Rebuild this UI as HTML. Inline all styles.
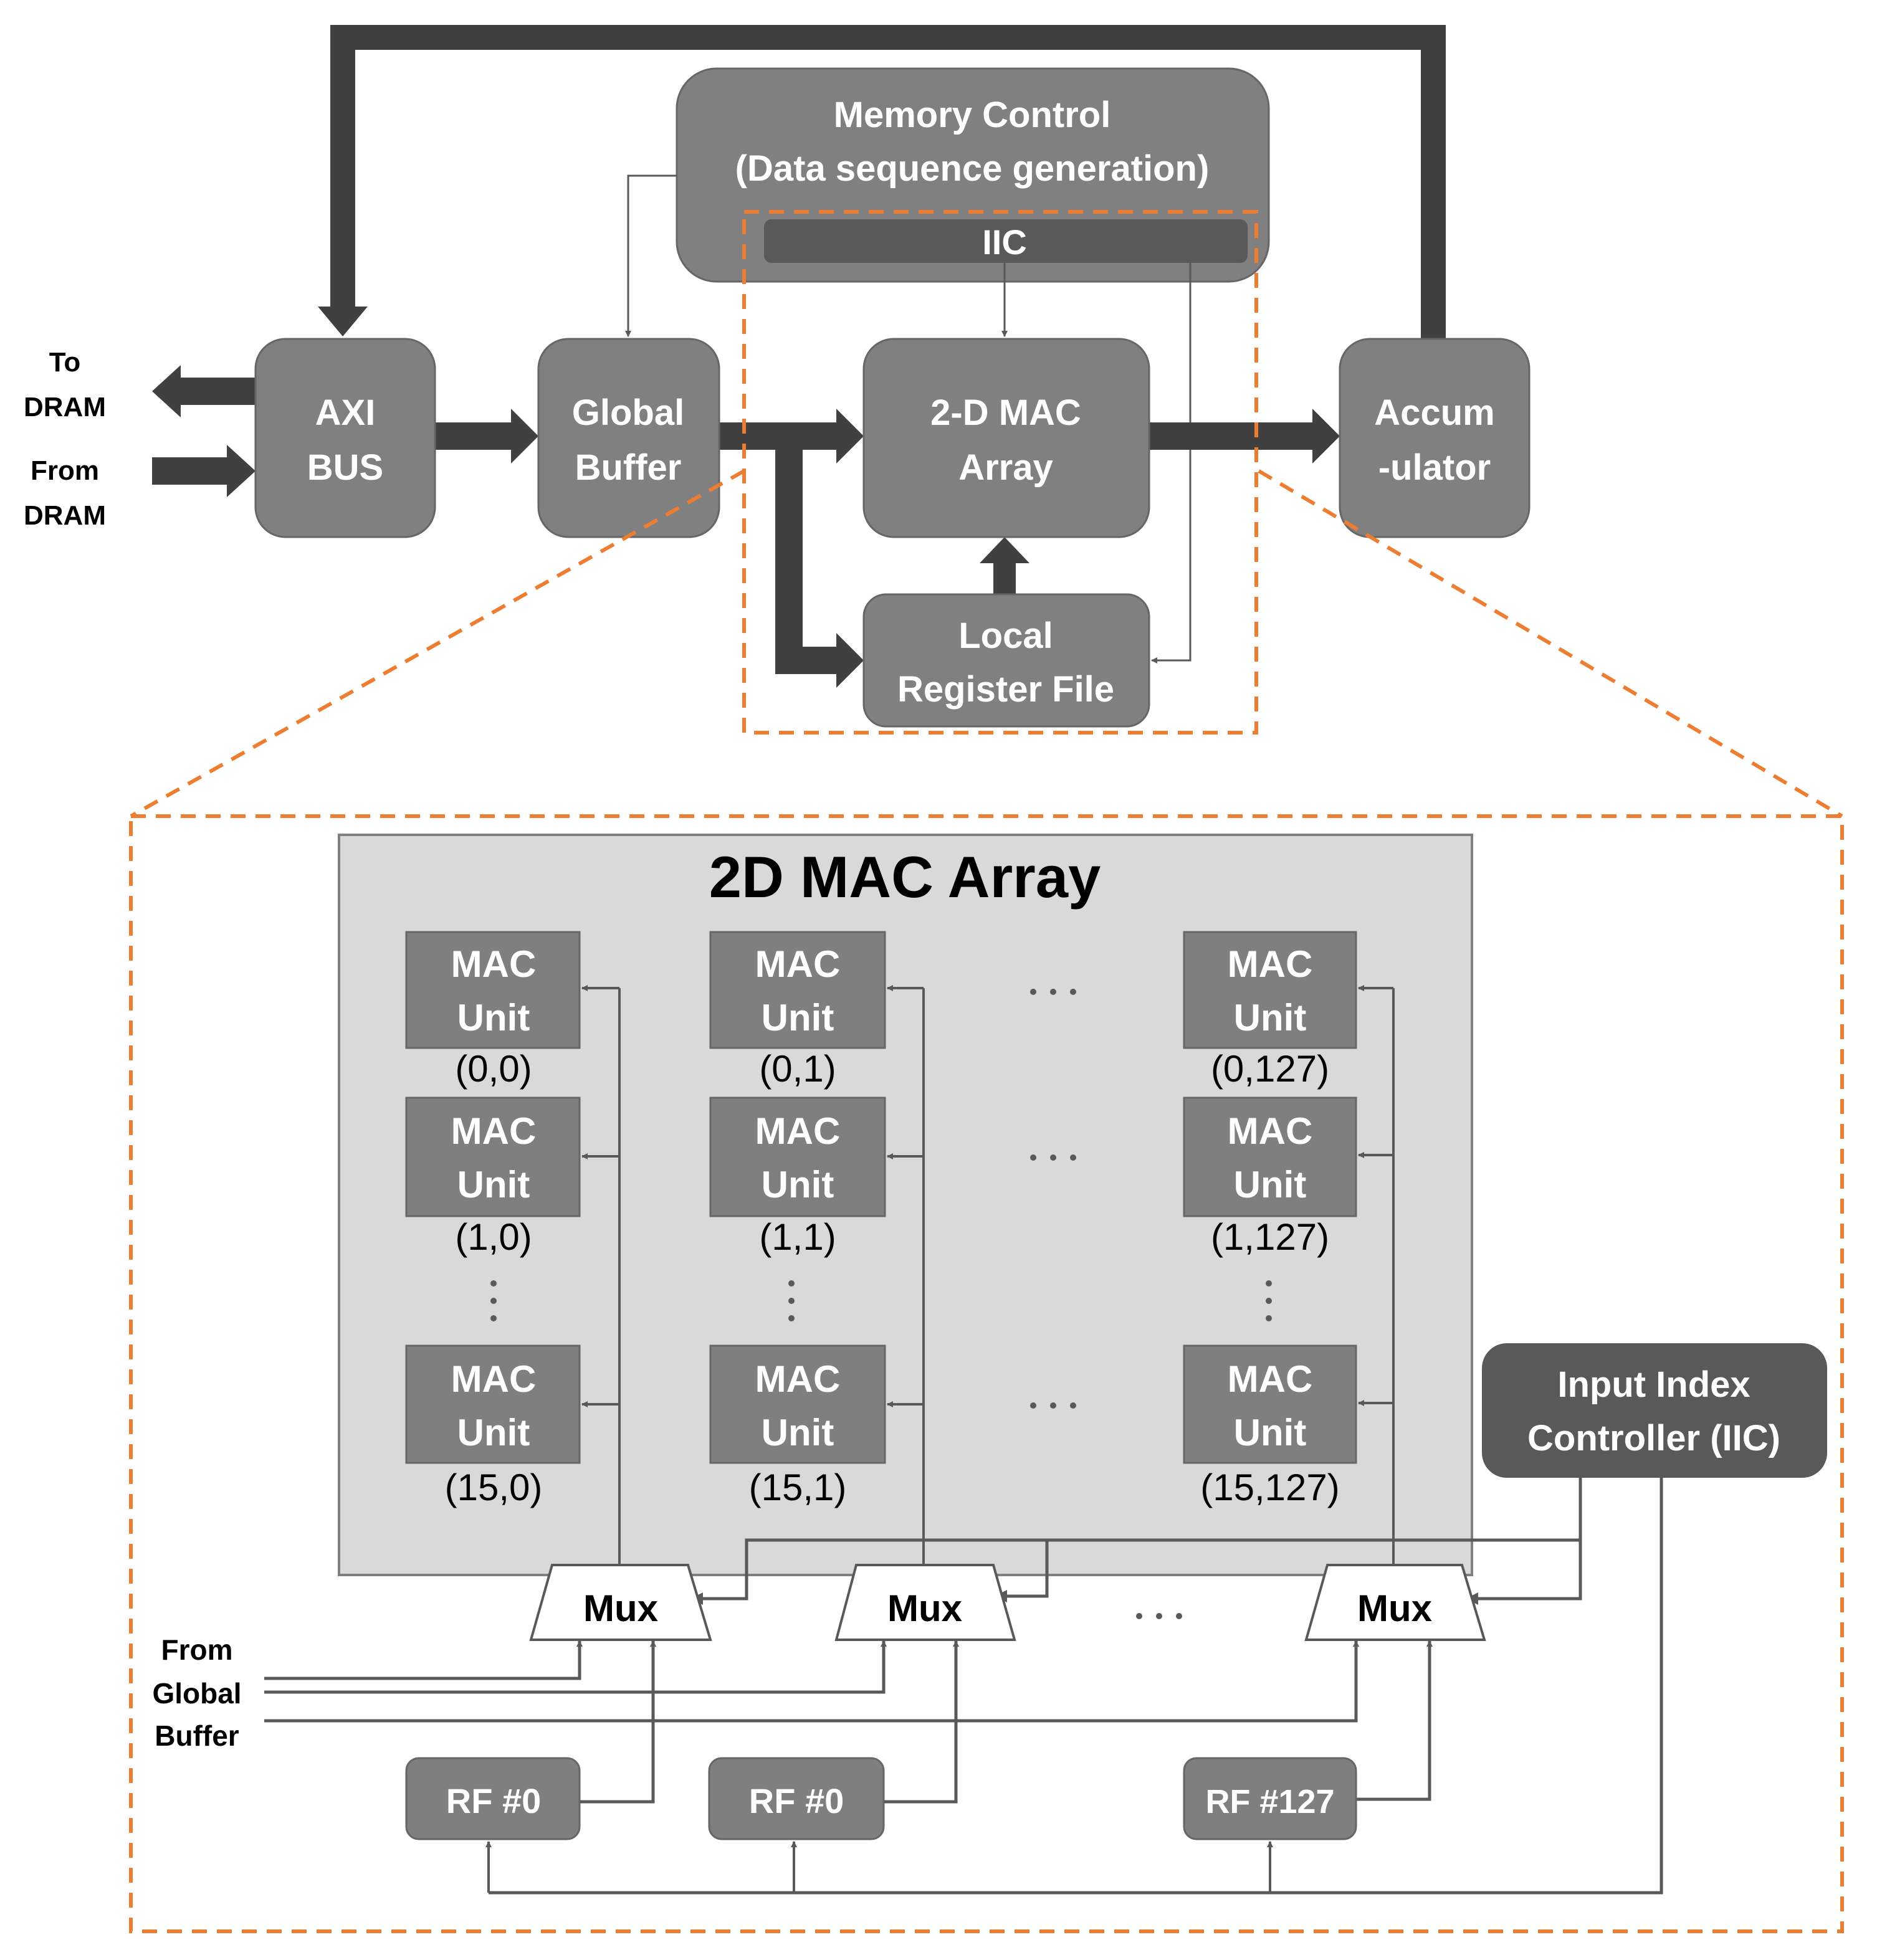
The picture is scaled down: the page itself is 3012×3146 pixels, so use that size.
<!DOCTYPE html>
<html><head><meta charset="utf-8"><style>
html,body{margin:0;padding:0;background:#fff;}
svg{display:block;}
.w{fill:#fff;font-family:"Liberation Sans",sans-serif;font-weight:bold;text-anchor:middle;}
.k{fill:#000;font-family:"Liberation Sans",sans-serif;text-anchor:middle;}
</style></head><body>
<svg width="3012" height="3146" viewBox="0 0 1506 1573" xmlns="http://www.w3.org/2000/svg">
<defs>
<marker id="a" viewBox="0 0 10 10" refX="9" refY="5" markerWidth="5" markerHeight="5" orient="auto-start-reverse" markerUnits="userSpaceOnUse">
<path d="M0,0 L10,5 L0,10 z" fill="#595959"/></marker>
<marker id="b" viewBox="0 0 10 10" refX="9" refY="5" markerWidth="10" markerHeight="10" orient="auto" markerUnits="userSpaceOnUse">
<path d="M0,0 L10,5 L0,10 z" fill="#595959"/></marker>
</defs>

<!-- top feedback loop -->
<path d="M1150,272 V30 H275 V248" fill="none" stroke="#404040" stroke-width="20"/>
<polygon points="255,246 295,246 275,270" fill="#404040"/>

<!-- memory control -->
<rect x="543" y="55" width="475" height="171" rx="32" fill="#808080" stroke="#666" stroke-width="1.5"/>
<text class="w" x="780" y="102" font-size="29">Memory Control</text>
<text class="w" x="780" y="145" font-size="29">(Data sequence generation)</text>
<rect x="613" y="176" width="388" height="35" rx="6" fill="#595959"/>
<text class="w" x="806" y="204" font-size="28">IIC</text>

<!-- thin connectors top -->
<path d="M543,141 H504 V270" fill="none" stroke="#595959" stroke-width="1.5" marker-end="url(#a)"/>
<path d="M806,211 V270" fill="none" stroke="#595959" stroke-width="1.5" marker-end="url(#a)"/>
<path d="M955,211 V530 H924" fill="none" stroke="#595959" stroke-width="1.5" marker-end="url(#a)"/>

<!-- thick arrows -->
<g fill="#404040">
<polygon points="205,303 145,303 145,293 122,314 145,335 145,325 205,325"/>
<polygon points="122,367 182,367 182,357 205,378 182,399 182,389 122,389"/>
<polygon points="349,339 410,339 410,328 432,350 410,372 410,361 349,361"/>
<polygon points="577,339 671,339 671,328 693,350 671,372 671,361 577,361"/>
<polygon points="922,339 1053,339 1053,328 1075,350 1053,372 1053,361 922,361"/>
<polygon points="622,361 644,361 644,519 671,519 671,508 693,530 671,552 671,541 622,541"/>
<polygon points="797,477 797,452 786,452 806,431 826,452 815,452 815,477"/>
</g>

<!-- blocks -->
<g fill="#808080" stroke="#666" stroke-width="1.5">
<rect x="205" y="272" width="144" height="159" rx="24"/>
<rect x="432" y="272" width="145" height="159" rx="24"/>
<rect x="693" y="272" width="229" height="159" rx="24"/>
<rect x="1075" y="272" width="152" height="159" rx="24"/>
<rect x="693" y="477" width="229" height="106" rx="18"/>
</g>
<g font-size="29">
<text class="w" x="277" y="341">AXI</text><text class="w" x="277" y="385">BUS</text>
<text class="w" x="504" y="341">Global</text><text class="w" x="504" y="385">Buffer</text>
<text class="w" x="807" y="341">2-D MAC</text><text class="w" x="807" y="385">Array</text>
<text class="w" x="1151" y="341">Accum</text><text class="w" x="1151" y="385">-ulator</text>
<text class="w" x="807" y="520">Local</text><text class="w" x="807" y="563">Register File</text>
</g>
<g font-size="22" font-weight="bold">
<text class="k" x="52" y="298" font-weight="bold">To</text>
<text class="k" x="52" y="334" font-weight="bold">DRAM</text>
<text class="k" x="52" y="385" font-weight="bold">From</text>
<text class="k" x="52" y="421" font-weight="bold">DRAM</text>
</g>

<!-- orange dashes -->
<g fill="none" stroke="#ED7D31" stroke-width="3" stroke-dasharray="12,8">
<rect x="597" y="170" width="411" height="418"/>
<line x1="597" y1="378" x2="105" y2="655"/>
<line x1="1010" y1="378" x2="1478" y2="655"/>
<rect x="105" y="655" width="1373" height="895"/>
</g>

<!-- 2D MAC panel -->
<rect x="272" y="670" width="909" height="594" fill="#d9d9d9" stroke="#7f7f7f" stroke-width="2"/>
<text class="k" x="726" y="720" font-size="47" font-weight="bold">2D MAC Array</text>

<!-- vertical feed lines -->
<g fill="none" stroke="#595959" stroke-width="2">
<line x1="497" y1="793" x2="497" y2="1256"/>
<line x1="741" y1="793" x2="741" y2="1256"/>
<line x1="1118" y1="793" x2="1118" y2="1256"/>
</g>
<g fill="none" stroke="#595959" stroke-width="2" marker-end="url(#a)">
<path d="M497,793 H467"/><path d="M497,928 H467"/><path d="M497,1127 H467"/>
<path d="M741,793 H712"/><path d="M741,928 H712"/><path d="M741,1127 H712"/>
<path d="M1118,793 H1090"/><path d="M1118,927 H1090"/><path d="M1118,1126 H1090"/>
</g>

<!-- MAC units -->
<g fill="#7f7f7f" stroke="#666" stroke-width="1.5">
<rect x="326" y="748" width="139" height="93"/><rect x="570" y="748" width="140" height="93"/><rect x="950" y="748" width="138" height="93"/>
<rect x="326" y="881" width="139" height="95"/><rect x="570" y="881" width="140" height="95"/><rect x="950" y="881" width="138" height="95"/>
<rect x="326" y="1080" width="139" height="94"/><rect x="570" y="1080" width="140" height="94"/><rect x="950" y="1080" width="138" height="94"/>
</g>
<g font-size="30">
<text class="w" x="396" y="784">MAC</text><text class="w" x="396" y="827">Unit</text>
<text class="w" x="640" y="784">MAC</text><text class="w" x="640" y="827">Unit</text>
<text class="w" x="1019" y="784">MAC</text><text class="w" x="1019" y="827">Unit</text>
<text class="w" x="396" y="918">MAC</text><text class="w" x="396" y="961">Unit</text>
<text class="w" x="640" y="918">MAC</text><text class="w" x="640" y="961">Unit</text>
<text class="w" x="1019" y="918">MAC</text><text class="w" x="1019" y="961">Unit</text>
<text class="w" x="396" y="1117">MAC</text><text class="w" x="396" y="1160">Unit</text>
<text class="w" x="640" y="1117">MAC</text><text class="w" x="640" y="1160">Unit</text>
<text class="w" x="1019" y="1117">MAC</text><text class="w" x="1019" y="1160">Unit</text>
</g>
<g font-size="30">
<text class="k" x="396" y="868">(0,0)</text><text class="k" x="640" y="868">(0,1)</text><text class="k" x="1019" y="868">(0,127)</text>
<text class="k" x="396" y="1003">(1,0)</text><text class="k" x="640" y="1003">(1,1)</text><text class="k" x="1019" y="1003">(1,127)</text>
<text class="k" x="396" y="1204">(15,0)</text><text class="k" x="640" y="1204">(15,1)</text><text class="k" x="1019" y="1204">(15,127)</text>
</g>
<!-- dots -->
<g fill="#595959">
<circle cx="829" cy="796" r="2.5"/><circle cx="845" cy="796" r="2.5"/><circle cx="861" cy="796" r="2.5"/>
<circle cx="829" cy="929" r="2.5"/><circle cx="845" cy="929" r="2.5"/><circle cx="861" cy="929" r="2.5"/>
<circle cx="829" cy="1128" r="2.5"/><circle cx="845" cy="1128" r="2.5"/><circle cx="861" cy="1128" r="2.5"/>
<circle cx="914" cy="1297" r="2.5"/><circle cx="930" cy="1297" r="2.5"/><circle cx="946" cy="1297" r="2.5"/>
<circle cx="396" cy="1030" r="2.5"/><circle cx="396" cy="1044" r="2.5"/><circle cx="396" cy="1058" r="2.5"/>
<circle cx="635" cy="1030" r="2.5"/><circle cx="635" cy="1044" r="2.5"/><circle cx="635" cy="1058" r="2.5"/>
<circle cx="1018" cy="1030" r="2.5"/><circle cx="1018" cy="1044" r="2.5"/><circle cx="1018" cy="1058" r="2.5"/>
</g>

<!-- IIC box -->
<rect x="1189" y="1078" width="277" height="108" rx="20" fill="#595959"/>
<text class="w" x="1327" y="1121" font-size="29">Input Index</text>
<text class="w" x="1327" y="1164" font-size="29">Controller (IIC)</text>

<!-- IIC to muxes -->
<g fill="none" stroke="#595959" stroke-width="2.5">
<path d="M1268,1186 V1283 H1177" marker-end="url(#b)"/>
<path d="M1268,1236 H599 V1283 H555" marker-end="url(#b)"/>
<path d="M840,1236 V1281 H799" marker-end="url(#b)"/>
</g>

<!-- muxes -->
<g fill="#fff" stroke="#595959" stroke-width="2">
<polygon points="443,1256 552,1256 570,1316 426,1316"/>
<polygon points="687,1256 797,1256 814,1316 671,1316"/>
<polygon points="1065,1256 1173,1256 1191,1316 1048,1316"/>
</g>
<g font-size="30" font-weight="bold">
<text class="k" x="498" y="1301" font-weight="bold">Mux</text>
<text class="k" x="742" y="1301" font-weight="bold">Mux</text>
<text class="k" x="1119" y="1301" font-weight="bold">Mux</text>
</g>

<!-- from global buffer -->
<g font-size="23" font-weight="bold">
<text class="k" x="158" y="1332" font-weight="bold">From</text>
<text class="k" x="158" y="1367" font-weight="bold">Global</text>
<text class="k" x="158" y="1401" font-weight="bold">Buffer</text>
</g>
<g fill="none" stroke="#595959" stroke-width="2.5" marker-end="url(#a)">
<path d="M212,1347 H465 V1317"/>
<path d="M212,1358 H709 V1317"/>
<path d="M212,1381 H1088 V1317"/>
<path d="M465,1446 H524 V1317"/>
<path d="M709,1446 H767 V1317"/>
<path d="M1088,1444 H1147 V1317"/>
</g>

<!-- RFs -->
<g fill="#7f7f7f" stroke="#666" stroke-width="1.5">
<rect x="326" y="1411" width="139" height="65" rx="10"/>
<rect x="569" y="1411" width="140" height="65" rx="10"/>
<rect x="950" y="1411" width="138" height="65" rx="10"/>
</g>
<text class="w" x="396" y="1455" font-size="28">RF #0</text>
<text class="w" x="639" y="1455" font-size="28">RF #0</text>
<text class="w" x="1019" y="1455" font-size="27">RF #127</text>

<!-- bottom bus -->
<path d="M1333,1186 V1519 H392" fill="none" stroke="#595959" stroke-width="2.5"/>
<g fill="none" stroke="#595959" stroke-width="2" marker-end="url(#a)">
<path d="M392,1519 V1478"/><path d="M637,1519 V1478"/><path d="M1019,1519 V1478"/>
</g>
</svg>
</body></html>
